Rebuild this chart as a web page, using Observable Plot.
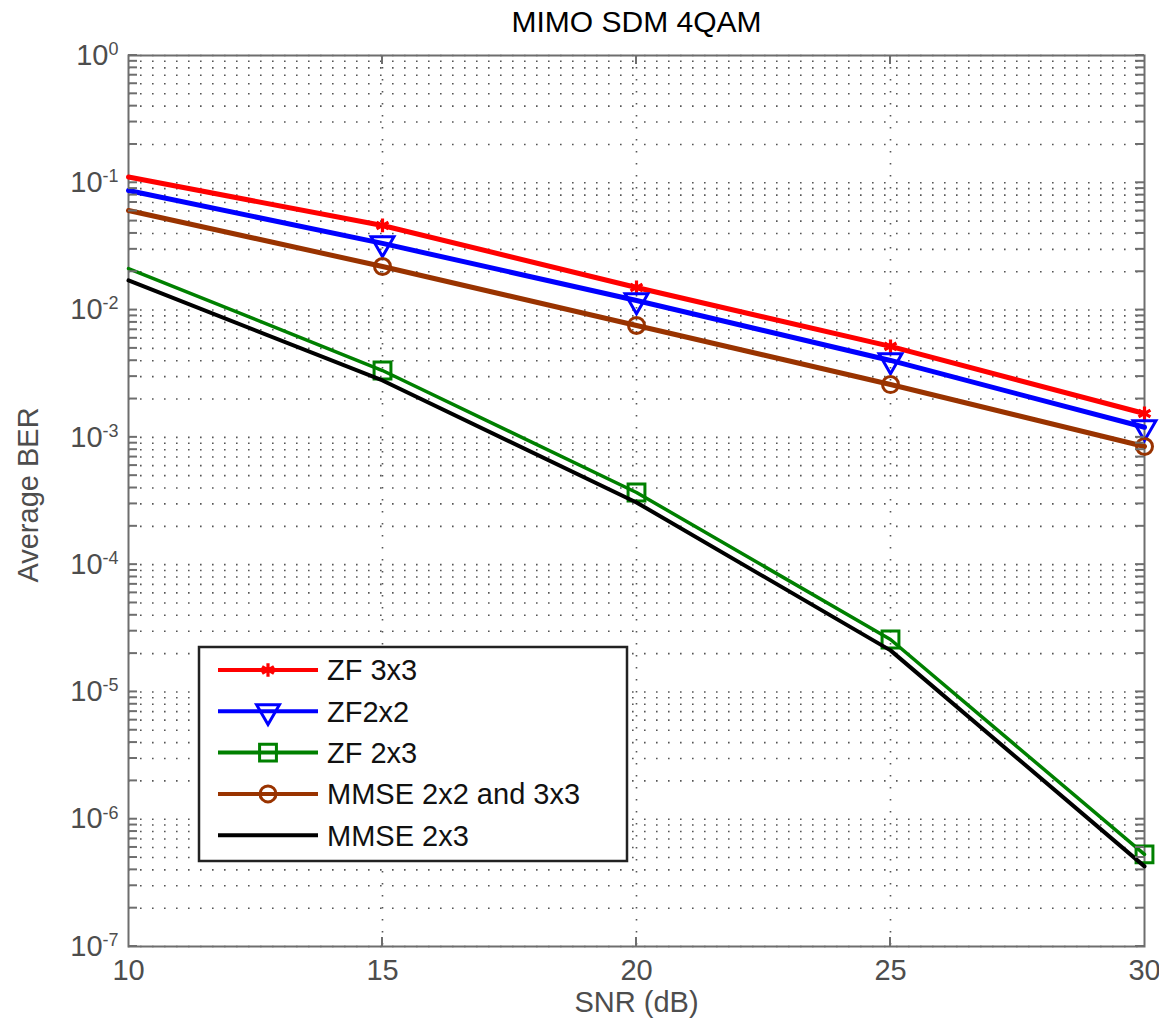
<!DOCTYPE html>
<html>
<head>
<meta charset="utf-8">
<script src="https://cdn.jsdelivr.net/npm/d3@7"></script>
<script src="https://cdn.jsdelivr.net/npm/@observablehq/plot@0.6"></script>
<style>
  body { margin: 0; background: #fff; }
  #chart svg { display: block; }
</style>
</head>
<body>
<div id="chart"></div>
<script>
// ---- data ----
const snr = [10, 15, 20, 25, 30];
const zf3x3 = [0.111, 0.0462, 0.01505, 0.00518, 0.00154];
const zf2x2 = [0.087, 0.0334, 0.0119, 0.00402, 0.0012];
const zf2x3 = [0.0212, 0.00335, 0.000369, 2.58e-5, 5.29e-7];
const mmse2x2and3x3 = [0.0606, 0.022, 0.00757, 0.0026, 0.000848];
const mmse2x3 = [0.0171, 0.0028, 0.000308, 2.12e-5, 4.26e-7];
// SNR points at which the reference shows markers
const markerSnr = [15, 20, 25, 30];

const seriesNames = ["ZF 3x3", "ZF2x2", "ZF 2x3", "MMSE 2x2 and 3x3", "MMSE 2x3"];
const seriesValues = [zf3x3, zf2x2, zf2x3, mmse2x2and3x3, mmse2x3];
const seriesColors = ["#ff0000", "#0000ff", "#008000", "#993300", "#000000"];

const xTicks = [10, 15, 20, 25, 30];
const xGrid = [15, 20, 25];
const yExponents = [-7, -6, -5, -4, -3, -2, -1, 0];

const titleText = "MIMO SDM 4QAM";
const xLabel = "SNR (dB)";
const yLabel = "Average BER";

// ---- derived tables ----
const rows = [];
seriesValues.forEach((vals, i) =>
  vals.forEach((v, j) => rows.push({series: seriesNames[i], snr: snr[j], ber: v}))
);
const yMajor = yExponents.map(e => Math.pow(10, e));
const yMinor = [];
yExponents.slice(0, -1).forEach(e => { for (let m = 2; m <= 9; m++) yMinor.push(m * Math.pow(10, e)); });
const yAll = yMajor.concat(yMinor);

// custom downward triangle symbol
const triangleDown = {
  draw(context, size) {
    const y = Math.sqrt(size / (Math.sqrt(3) * 3));
    context.moveTo(0, 2 * y);
    context.lineTo(-Math.sqrt(3) * y, -y);
    context.lineTo(Math.sqrt(3) * y, -y);
    context.closePath();
  }
};
const markerSpec = {
  "ZF 3x3": {symbol: "asterisk", r: 6.5, sw: 3.2},
  "ZF2x2": {symbol: triangleDown, r: 8.5, sw: 3},
  "ZF 2x3": {symbol: "square", r: 9.5, sw: 3},
  "MMSE 2x2 and 3x3": {symbol: "circle", r: 8, sw: 3}
};
const lineWidths = {"ZF 3x3": 5, "ZF2x2": 5, "ZF 2x3": 3.5, "MMSE 2x2 and 3x3": 5, "MMSE 2x3": 4};

const font = "'Liberation Sans', Arial, Helvetica, sans-serif";
const gridStyle = {stroke: "#555", strokeOpacity: 1, strokeWidth: 1.6, strokeDasharray: "1.6,10.4"};
const axisGray = "#6e6e6e";
const labelGray = "#4d4d4d";

const marks = [
  Plot.gridY(yAll, gridStyle),
  Plot.gridX(xGrid, gridStyle),
  // tick labels
  Plot.axisY(yMajor, {anchor: "left", tickSize: 0, tickPadding: 10, fontSize: 29, fill: labelGray,
    tickFormat: d => String(Math.round(Math.log10(d)))}),
  Plot.axisX(xTicks, {anchor: "bottom", tickSize: 0, tickPadding: 13, fontSize: 29, fill: labelGray,
    tickFormat: d => String(d)}),
  Plot.frame({stroke: axisGray, strokeWidth: 2}),
];

seriesNames.forEach((name, i) => {
  const data = rows.filter(r => r.series === name);
  marks.push(Plot.line(data, {x: "snr", y: "ber", stroke: seriesColors[i], strokeWidth: lineWidths[name]}));
  const m = markerSpec[name];
  if (m) {
    marks.push(Plot.dot(data.filter(r => markerSnr.includes(r.snr)), {x: "snr", y: "ber", symbol: m.symbol, r: m.r,
      stroke: seriesColors[i], fill: "none", strokeWidth: m.sw}));
  }
});

// title and axis labels
marks.push(Plot.text([titleText], {frameAnchor: "top", lineAnchor: "middle", textAnchor: "middle", dy: -33,
  fontSize: 30, fill: "#000", text: d => d}));
marks.push(Plot.text([xLabel], {frameAnchor: "bottom", lineAnchor: "middle", textAnchor: "middle", dy: 56,
  fontSize: 29, fill: labelGray, text: d => d}));
marks.push(Plot.text([yLabel], {frameAnchor: "left", lineAnchor: "middle", textAnchor: "middle", dx: -100, dy: -6,
  rotate: -90, fontSize: 29, fill: labelGray, text: d => d}));

const chart = Plot.plot({
  width: 1159,
  height: 1025,
  marginLeft: 128,
  marginRight: 15,
  marginTop: 55,
  marginBottom: 79,
  style: {fontFamily: font, fontSize: "29px", background: "#fff", color: "#000"},
  x: {domain: [10, 30], label: null},
  y: {type: "log", domain: [1e-7, 1], label: null},
  marks
});
document.getElementById("chart").appendChild(chart);

const sx = chart.scale("x"), sy = chart.scale("y");

// superscript exponents on y tick labels
d3.select(chart).selectAll('g[aria-label="y-axis tick label"] text').each(function() {
  const e = this.textContent;
  const t = d3.select(this);
  t.text(null);
  t.append("tspan").text("10");
  t.append("tspan").attr("dy", "-0.55em").attr("font-size", "0.62em").text(e);
});

// inward ticks on all four sides, positioned with the plot's own scales
const xL = sx.apply(10), xR = sx.apply(30), yT = sy.apply(1), yB = sy.apply(1e-7);
const tk = d3.select(chart).append("g").attr("stroke", axisGray).attr("stroke-width", 2);
yAll.forEach(v => {
  const y = sy.apply(v);
  tk.append("line").attr("x1", xL).attr("x2", xL + 9).attr("y1", y).attr("y2", y);
  tk.append("line").attr("x1", xR).attr("x2", xR - 9).attr("y1", y).attr("y2", y);
});
xGrid.forEach(v => {
  const x = sx.apply(v);
  tk.append("line").attr("x1", x).attr("x2", x).attr("y1", yB).attr("y2", yB - 9);
  tk.append("line").attr("x1", x).attr("x2", x).attr("y1", yT).attr("y2", yT + 9);
});

// legend
const legend = {x0: 199, y0: 647, w: 428, h: 214, rowY0: 670, rowStep: 41.3, lx1: 218, lx2: 318, mx: 268, tx: 327};
const lg = d3.select(chart).append("g").attr("font-family", font).attr("font-size", 29).attr("text-anchor", "start");
lg.append("rect").attr("x", legend.x0).attr("y", legend.y0).attr("width", legend.w).attr("height", legend.h)
  .attr("fill", "#fff").attr("stroke", "#222").attr("stroke-width", 2.5);
const symMap = {asterisk: d3.symbolAsterisk, square: d3.symbolSquare, circle: d3.symbolCircle};
seriesNames.forEach((name, i) => {
  const y = legend.rowY0 + i * legend.rowStep;
  lg.append("line").attr("x1", legend.lx1).attr("x2", legend.lx2).attr("y1", y).attr("y2", y)
    .attr("stroke", seriesColors[i]).attr("stroke-width", 4);
  const m = markerSpec[name];
  if (m) {
    const type = typeof m.symbol === "string" ? symMap[m.symbol] : m.symbol;
    lg.append("path").attr("d", d3.symbol(type, Math.PI * m.r * m.r)())
      .attr("transform", `translate(${legend.mx},${y})`)
      .attr("fill", "none").attr("stroke", seriesColors[i]).attr("stroke-width", m.sw);
  }
  lg.append("text").attr("x", legend.tx).attr("y", y).attr("dy", "0.36em").attr("fill", "#111")
    .attr("text-anchor", "start").text(name);
});
</script>
</body>
</html>
